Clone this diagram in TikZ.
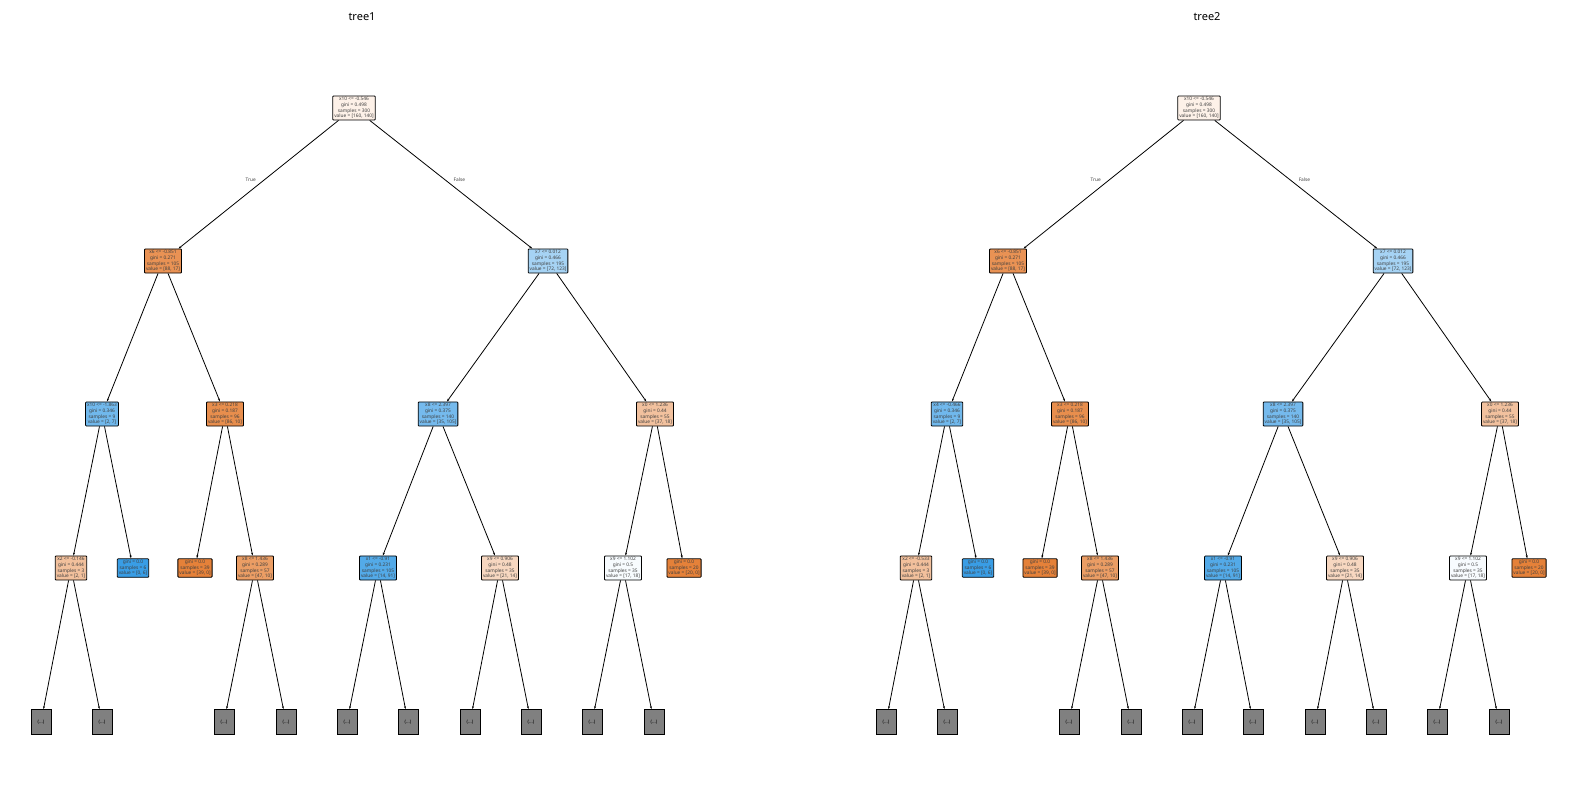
\documentclass[tikz,border=0pt]{standalone}
\usepackage{fontspec}
\setmainfont{Noto Sans}
\usetikzlibrary{arrows.meta}
\definecolor{cR}{HTML}{FDF1E8}
\definecolor{cA}{HTML}{E99254}
\definecolor{cB}{HTML}{A6D3F4}
\definecolor{cC}{HTML}{70B8EC}
\definecolor{cD}{HTML}{E88E4D}
\definecolor{cE}{HTML}{75BAED}
\definecolor{cF}{HTML}{F2C19E}
\definecolor{cG}{HTML}{F2C09C}
\definecolor{cH}{HTML}{399DE5}
\definecolor{cI}{HTML}{E58139}
\definecolor{cJ}{HTML}{EB9D64}
\definecolor{cK}{HTML}{53AAE8}
\definecolor{cL}{HTML}{F7D7C0}
\definecolor{cM}{HTML}{F7FBFE}
\tikzset{
 nd/.style={draw=black,line width=0.8pt,rounded corners=0.8pt,align=center,inner sep=1.5pt,font=\fontsize{4.8}{5.6}\selectfont,text=black!75},
 lf/.style={draw=black,line width=0.8pt,fill=gray!100!white,fill=black!50,minimum width=20pt,minimum height=25pt,inner sep=0pt,font=\fontsize{4.8}{5.6}\selectfont},
 ed/.style={-{Stealth[length=3pt,width=2pt]},line width=0.8pt},
 el/.style={font=\fontsize{4.8}{5.6}\selectfont,text=black!75}
}
\newcommand\mytree[4]{%
\node[nd,fill=cR] (#1r) at (354+#2,108) {x10 <= -0.546\\gini = 0.498\\samples = 300\\value = [160, 140]};
\node[nd,fill=cA] (#1a) at (163+#2,261) {x6 <= -0.851\\gini = 0.271\\samples = 105\\value = [88, 17]};
\node[nd,fill=cB] (#1b) at (548+#2,261) {x7 <= 0.012\\gini = 0.466\\samples = 195\\value = [72, 123]};
\node[nd,fill=cC] (#1c) at (102+#2,414) {#3\\gini = 0.346\\samples = 9\\value = [2, 7]};
\node[nd,fill=cD] (#1d) at (225+#2,414) {x3 <= 0.218\\gini = 0.187\\samples = 96\\value = [86, 10]};
\node[nd,fill=cE] (#1e) at (438+#2,414) {x8 <= 2.397\\gini = 0.375\\samples = 140\\value = [35, 105]};
\node[nd,fill=cF] (#1f) at (655+#2,414) {x0 <= 1.236\\gini = 0.44\\samples = 55\\value = [37, 18]};
\node[nd,fill=cG] (#1g) at (71+#2,568) {#4\\gini = 0.444\\samples = 3\\value = [2, 1]};
\node[nd,fill=cH] (#1h) at (133+#2,568) {gini = 0.0\\samples = 6\\value = [0, 6]};
\node[nd,fill=cI] (#1i) at (195+#2,568) {gini = 0.0\\samples = 39\\value = [39, 0]};
\node[nd,fill=cJ] (#1j) at (255+#2,568) {x8 <= 1.436\\gini = 0.289\\samples = 57\\value = [47, 10]};
\node[nd,fill=cK] (#1k) at (378+#2,568) {x1 <= -0.91\\gini = 0.231\\samples = 105\\value = [14, 91]};
\node[nd,fill=cL] (#1l) at (500+#2,568) {x9 <= 0.906\\gini = 0.48\\samples = 35\\value = [21, 14]};
\node[nd,fill=cM] (#1m) at (623+#2,568) {x9 <= 1.102\\gini = 0.5\\samples = 35\\value = [17, 18]};
\node[nd,fill=cI] (#1n) at (684+#2,568) {gini = 0.0\\samples = 20\\value = [20, 0]};
\foreach \n/\x in {1/41,2/102,3/224,4/286,5/347,6/408,7/470,8/531,9/592,10/654}{\node[lf] (#1p\n) at (\x+#2,722) {(...)};}
\draw[ed] (#1r) -- (#1a) node[el,midway,above left=-1pt] {True};
\draw[ed] (#1r) -- (#1b) node[el,midway,above right=-1pt] {False};
\draw[ed] (#1a) -- (#1c); \draw[ed] (#1a) -- (#1d);
\draw[ed] (#1b) -- (#1e); \draw[ed] (#1b) -- (#1f);
\draw[ed] (#1c) -- (#1g); \draw[ed] (#1c) -- (#1h);
\draw[ed] (#1d) -- (#1i); \draw[ed] (#1d) -- (#1j);
\draw[ed] (#1e) -- (#1k); \draw[ed] (#1e) -- (#1l);
\draw[ed] (#1f) -- (#1m); \draw[ed] (#1f) -- (#1n);
\draw[ed] (#1g) -- (#1p1); \draw[ed] (#1g) -- (#1p2);
\draw[ed] (#1j) -- (#1p3); \draw[ed] (#1j) -- (#1p4);
\draw[ed] (#1k) -- (#1p5); \draw[ed] (#1k) -- (#1p6);
\draw[ed] (#1l) -- (#1p7); \draw[ed] (#1l) -- (#1p8);
\draw[ed] (#1m) -- (#1p9); \draw[ed] (#1m) -- (#1p10);
}
\begin{document}
\begin{tikzpicture}[x=1pt,y=-1pt]
\useasboundingbox[fill=white] (0,0) rectangle (1569,811);
\node[font=\fontsize{11}{13}\selectfont] (t1) at (362,17) {tree1};
\node[font=\fontsize{11}{13}\selectfont] (t2) at (1207,17) {tree2};
\mytree{a}{0}{x10 <= -1.863}{x2 <= -0.146}
\mytree{b}{845}{x4 <= -0.466}{x2 <= -0.533}
\end{tikzpicture}
\end{document}
